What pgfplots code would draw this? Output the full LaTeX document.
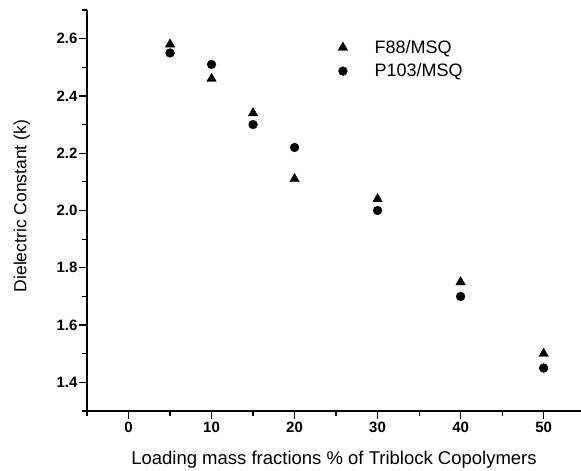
\documentclass[border=0pt]{standalone}
\usepackage{pgfplots}
\pgfplotsset{compat=1.18}
\usepackage{fontspec}
\setmainfont{Liberation Sans}
\begin{document}
\begin{tikzpicture}
\begin{axis}[
    scale only axis,
    width=494pt, height=401pt,
    xmin=-5, xmax=54.5,
    ymin=1.3, ymax=2.7,
    axis lines*=left,
    axis line style={line width=1.6pt},
    tick style={line width=1.2pt, black},
    tick align=outside,
    major tick length=8pt,
    minor tick length=5pt,
    xtick={0,10,20,30,40,50},
    minor xtick={-5,5,15,25,35,45},
    ytick={1.4,1.6,1.8,2.0,2.2,2.4,2.6},
    minor ytick={1.3,1.5,1.7,1.9,2.1,2.3,2.5,2.7},
    yticklabel style={/pgf/number format/fixed, /pgf/number format/fixed zerofill, /pgf/number format/precision=1, xshift=2pt},
    xticklabel style={yshift=1pt},
    /pgf/number format/assume math mode=true,
    ticklabel style={font=\fontsize{15}{17}\selectfont\bfseries},
    xlabel={Loading mass fractions \% of Triblock Copolymers},
    ylabel={Dielectric Constant (k)},
    every axis x label/.style={at={(axis description cs:0.5,-0.122)}, anchor=center, font=\fontsize{18.5}{21}\selectfont},
    every axis y label/.style={at={(axis description cs:-0.132,0.511)}, rotate=90, anchor=center, font=\fontsize{17.5}{21}\selectfont},
    legend style={draw=none, fill=none, at={(axis description cs:0.502,0.935)}, anchor=north west,
        font=\fontsize{18}{21}\selectfont, nodes={inner sep=2pt}, column sep=25pt, row sep=5pt},
    legend cell align=left,
]
\addplot[only marks, mark=triangle*, mark size=5.5pt, black] coordinates {
    (5,2.58) (10,2.46) (15,2.34) (20,2.11) (30,2.04) (40,1.75) (50,1.50)
};
\addlegendentry{F88/MSQ}
\addplot[only marks, mark=*, mark size=4.4pt, black] coordinates {
    (5,2.55) (10,2.51) (15,2.30) (20,2.22) (30,2.00) (40,1.70) (50,1.45)
};
\addlegendentry{P103/MSQ}
\end{axis}
\pgfresetboundingbox
\path ([xshift=-87pt,yshift=-60pt]current axis.south west) rectangle ([yshift=10pt]current axis.north east);
\end{tikzpicture}
\end{document}
